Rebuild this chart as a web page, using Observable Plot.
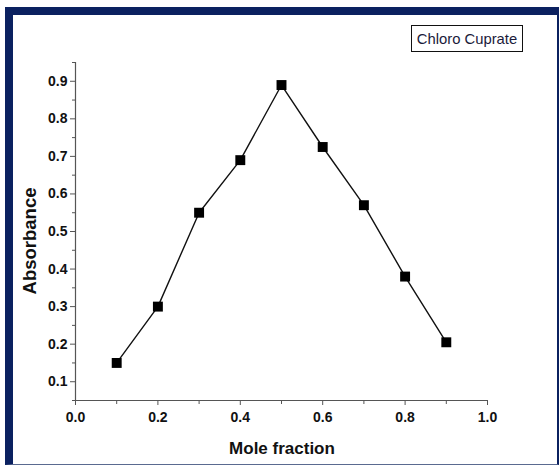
<!DOCTYPE html>
<html>
<head>
<meta charset="utf-8">
<script src="https://cdn.jsdelivr.net/npm/d3@7"></script>
<script src="https://cdn.jsdelivr.net/npm/@observablehq/plot@0.6"></script>
<style>
  html, body { margin: 0; padding: 0; background: #fff; }
  #wrap { position: relative; width: 559px; height: 465px; overflow: hidden; }
  #border { position: absolute; left: 5px; top: 7px; width: 554px; height: 458px; box-sizing: border-box;
    border-left: 8px solid #0b2160; border-top: 8px solid #0b2160; border-right: 2px solid #0b2160;
    border-bottom: 1px solid #5a6a90; pointer-events: none; }
</style>
</head>
<body>
<div id="wrap"><div id="border"></div></div>
<script>
const moleFraction = [0.1, 0.2, 0.3, 0.4, 0.5, 0.6, 0.7, 0.8, 0.9];
const absorbance   = [0.15, 0.30, 0.55, 0.69, 0.89, 0.725, 0.57, 0.38, 0.205];
const xMajorTicks = [0, 0.2, 0.4, 0.6, 0.8, 1.0];
const xMinorTicks = [0.1, 0.3, 0.5, 0.7, 0.9];
const yMajorTicks = [0.1, 0.2, 0.3, 0.4, 0.5, 0.6, 0.7, 0.8, 0.9];
const yMinorTicks = [0.05, 0.15, 0.25, 0.35, 0.45, 0.55, 0.65, 0.75, 0.85, 0.95];
const xTitle = "Mole fraction";
const yTitle = "Absorbance";
const seriesName = "Chloro Cuprate";

const data = moleFraction.map((x, i) => ({x, y: absorbance[i]}));
const fmt = d3.format(".1f");
const font = "'Liberation Sans', Arial, sans-serif";

const chart = Plot.plot({
  width: 559, height: 465,
  marginLeft: 75, marginRight: 72, marginTop: 62, marginBottom: 65,
  x: {domain: [0, 1]},
  y: {domain: [0.05, 0.95]},
  style: {fontFamily: font, background: "transparent"},
  marks: [
    Plot.axisY(yMinorTicks, {tickSize: 3, tickFormat: () => "", label: null, stroke: "#555"}),
    Plot.axisY(yMajorTicks, {tickSize: 5, tickPadding: 3, tickFormat: fmt, label: null, stroke: "#555",
      fill: "#111", fontSize: 14, fontWeight: "bold"}),
    Plot.axisX(xMinorTicks, {tickSize: 4, tickFormat: () => "", label: null, stroke: "#555"}),
    Plot.axisX(xMajorTicks, {tickSize: 5, tickPadding: 7, tickFormat: fmt, label: null, stroke: "#555",
      fill: "#111", fontSize: 14, fontWeight: "bold"}),
    Plot.ruleX([0], {stroke: "#555", strokeWidth: 1.2}),
    Plot.ruleY([0.05], {stroke: "#555", strokeWidth: 1.2}),
    Plot.line(data, {x: "x", y: "y", stroke: "#111", strokeWidth: 1.4}),
    Plot.dot(data, {x: "x", y: "y", symbol: "square", r: 5.6, fill: "#000", stroke: "none"})
  ]
});

const svg = d3.select(chart);
svg.append("text")
  .attr("transform", "translate(29,241) rotate(-90)")
  .attr("text-anchor", "middle").attr("dominant-baseline", "central")
  .attr("font-family", font).attr("font-weight", "bold").attr("font-size", 18.5).attr("fill", "#111")
  .text(yTitle);
svg.append("text")
  .attr("x", 282).attr("y", 448)
  .attr("text-anchor", "middle").attr("dominant-baseline", "central")
  .attr("font-family", font).attr("font-weight", "bold").attr("font-size", 17).attr("fill", "#111")
  .text(xTitle);
const lg = svg.append("g");
lg.append("rect").attr("x", 411.5).attr("y", 25.5).attr("width", 111).attr("height", 26)
  .attr("fill", "#fff").attr("stroke", "#111").attr("stroke-width", 1);
lg.append("text").attr("x", 467).attr("y", 38.5)
  .attr("text-anchor", "middle").attr("dominant-baseline", "central")
  .attr("font-family", font).attr("font-size", 14.8).attr("fill", "#1a1a3a")
  .text(seriesName);

document.getElementById("wrap").insertBefore(chart, document.getElementById("border"));
chart.style.position = "absolute"; chart.style.left = "0"; chart.style.top = "0";
</script>
</body>
</html>
